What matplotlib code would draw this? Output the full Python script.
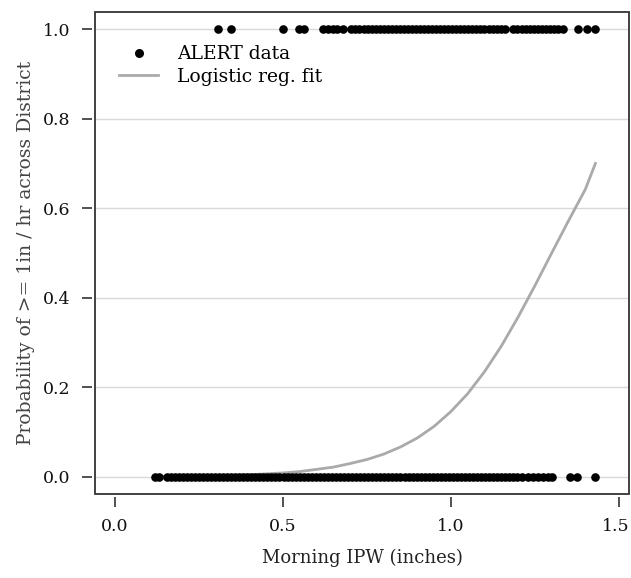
import matplotlib
matplotlib.use("Agg")
import matplotlib.pyplot as plt
from matplotlib.patches import Rectangle
from matplotlib.lines import Line2D
from matplotlib.transforms import ScaledTranslation

# ALERT data: morning IPW (inches) for events (y=1) and non-events (y=0)
x_events = [0.307, 0.345, 0.499, 0.548, 0.562, 0.620, 0.634, 0.649, 0.660, 0.679,
            0.704, 0.716, 0.728, 0.740, 0.752, 0.764, 0.776, 0.788, 0.800, 0.812,
            0.824, 0.836, 0.848, 0.860, 0.872, 0.884, 0.896, 0.908, 0.920, 0.932,
            0.944, 0.956, 0.968, 0.980, 0.992, 1.004, 1.016, 1.028, 1.040, 1.052,
            1.064, 1.076, 1.088, 1.100, 1.112, 1.124, 1.136, 1.148, 1.162, 1.185,
            1.198, 1.212, 1.224, 1.236, 1.248, 1.260, 1.272, 1.284, 1.296, 1.308,
            1.320, 1.334, 1.378, 1.405, 1.429]
x_nonevents = [0.119, 0.131, 0.154, 0.166, 0.178, 0.190, 0.202, 0.214, 0.226, 0.238,
               0.250, 0.262, 0.274, 0.286, 0.298, 0.310, 0.322, 0.334, 0.346, 0.358,
               0.370, 0.382, 0.394, 0.406, 0.418, 0.430, 0.442, 0.454, 0.466, 0.478,
               0.490, 0.502, 0.514, 0.526, 0.538, 0.550, 0.562, 0.574, 0.586, 0.598,
               0.610, 0.622, 0.634, 0.646, 0.658, 0.670, 0.682, 0.694, 0.706, 0.718,
               0.730, 0.742, 0.754, 0.766, 0.778, 0.790, 0.802, 0.814, 0.826, 0.838,
               0.850, 0.862, 0.874, 0.886, 0.898, 0.910, 0.922, 0.934, 0.946, 0.958,
               0.970, 0.982, 0.994, 1.006, 1.018, 1.030, 1.042, 1.054, 1.066, 1.078,
               1.090, 1.102, 1.114, 1.126, 1.138, 1.150, 1.162, 1.174, 1.186, 1.198,
               1.212, 1.230, 1.245, 1.260, 1.275, 1.290, 1.302, 1.354, 1.376, 1.429]

# Logistic regression fit
fit_x = [0.12, 0.20, 0.30, 0.40, 0.50, 0.55, 0.60, 0.65, 0.70, 0.75, 0.80, 0.85,
         0.90, 0.95, 1.00, 1.05, 1.10, 1.15, 1.20, 1.25, 1.30, 1.35, 1.40, 1.43]
fit_y = [0.001, 0.002, 0.003, 0.005, 0.009, 0.012, 0.017, 0.022, 0.030, 0.039,
         0.051, 0.067, 0.087, 0.113, 0.146, 0.186, 0.235, 0.292, 0.357, 0.427,
         0.500, 0.572, 0.642, 0.700]

y_ticks = [0.0, 0.2, 0.4, 0.6, 0.8, 1.0]
x_ticks = [0.0, 0.5, 1.0, 1.5]

plt.rcParams['font.family'] = ['DejaVu Serif']

W, H = 631, 578
fig = plt.figure(figsize=(W / 100, H / 100), dpi=100)
ax = fig.add_axes([95 / W, 1 - 494 / H, (629 - 95) / W, (494 - 12) / H])

ax.set_xlim(-0.059, 1.53)
ax.set_ylim(-0.038, 1.038)

for yt in y_ticks:
    ax.axhline(yt, color='#d9d9d9', lw=1.0, zorder=0)

ax.plot(x_events, [1] * len(x_events), 'o', color='black', ms=6.2, mew=0, zorder=3)
ax.plot(x_nonevents, [0] * len(x_nonevents), 'o', color='black', ms=6.2, mew=0, zorder=3)
ax.plot(fit_x, fit_y, color='#aaaaaa', lw=2.0, zorder=2)

ax.set_xticks(x_ticks)
ax.set_xticklabels(['0.0', '0.5', '1.0', '1.5'])
ax.set_yticks(y_ticks)
ax.set_yticklabels(['0.0', '0.2', '0.4', '0.6', '0.8', '1.0'])

for s in ['top', 'right']:
    ax.spines[s].set_visible(False)
for s in ['bottom', 'left']:
    ax.spines[s].set_position(('outward', 2.5))
    ax.spines[s].set_visible(False)
ax.add_patch(Rectangle((0, 0), 1, 1, transform=ax.transAxes, fill=False,
                       ec='#333333', lw=1.3, zorder=5, clip_on=False))

ax.tick_params(axis='both', direction='out', length=7, width=1.2, color='#333333',
               labelsize=12.5, labelcolor='#111111')
ax.tick_params(axis='x', pad=8)
ax.tick_params(axis='y', pad=8)

# keep the last x tick label inside the canvas
last = ax.get_xticklabels()[-1]
last.set_transform(last.get_transform() + ScaledTranslation(-0.03, 0, fig.dpi_scale_trans))

ax.set_xlabel('Morning IPW (inches)', fontsize=13, color='#222222', labelpad=10)
ax.set_ylabel('Probability of >= 1in / hr across District', fontsize=13.5,
              color='#444444', labelpad=6)

handles = [Line2D([], [], marker='o', ls='none', color='black', ms=6.5, mew=0),
           Line2D([], [], color='#aaaaaa', lw=2.0)]
ax.legend(handles, ['ALERT data', 'Logistic reg. fit'], loc='upper left',
          frameon=False, fontsize=13.5, handlelength=2.1, borderaxespad=0.6,
          bbox_to_anchor=(0.01, 0.97), labelspacing=0.25, handletextpad=1.0)

fig.savefig('out.png', dpi=100)
